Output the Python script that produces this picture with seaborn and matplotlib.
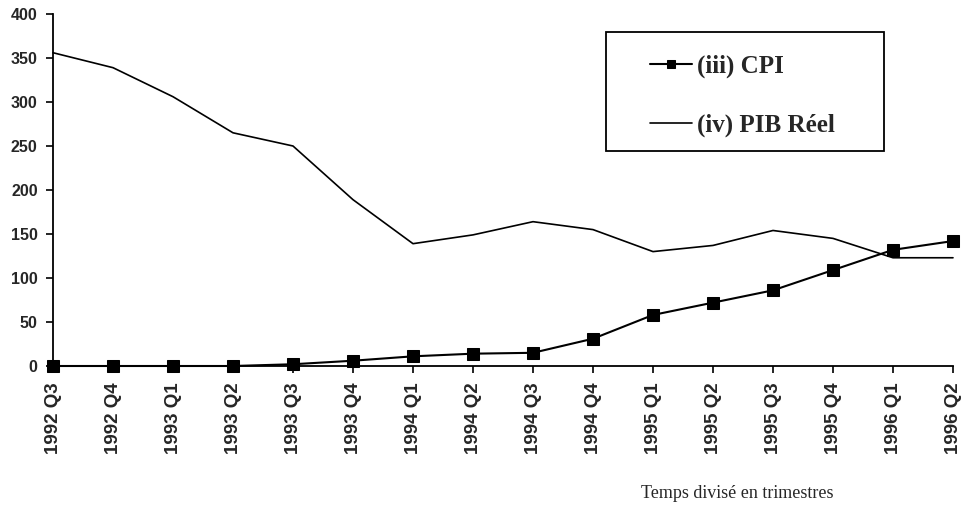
import pandas as pd
import matplotlib
matplotlib.use('Agg')
import matplotlib.pyplot as plt
from matplotlib.patches import Rectangle
import seaborn as sns

# Values
quarters = ['1992 Q3', '1992 Q4', '1993 Q1', '1993 Q2', '1993 Q3', '1993 Q4',
            '1994 Q1', '1994 Q2', '1994 Q3', '1994 Q4', '1995 Q1', '1995 Q2',
            '1995 Q3', '1995 Q4', '1996 Q1', '1996 Q2']
cpi = [0, 0, 0, 0, 2, 6, 11, 14, 15, 31, 58, 72, 86, 109, 132, 142]
pib = [356, 339, 306, 265, 250, 189, 139, 149, 164, 155, 130, 137, 154, 145, 123, 123]
y_ticks = [0, 50, 100, 150, 200, 250, 300, 350, 400]

df = pd.DataFrame({'pos': range(len(quarters)), 'quarter': quarters,
                   'cpi': cpi, 'pib': pib})

sns.set_style('ticks')
plt.rcParams['font.family'] = ['Liberation Sans', 'DejaVu Sans']

fig = plt.figure(figsize=(9.63, 5.17), dpi=100)
ax = fig.add_axes([53 / 963, 1 - 366 / 517, 900 / 963, 352 / 517])

sns.lineplot(data=df, x='pos', y='cpi', ax=ax, color='black', linewidth=1.5,
             marker='s', markersize=8.5, markeredgecolor='black',
             label='(iii) CPI', clip_on=False)
sns.lineplot(data=df, x='pos', y='pib', ax=ax, color='black', linewidth=1.2,
             label='(iv) PIB Réel', clip_on=False)

ax.set_xlim(0, len(quarters) - 1)
ax.set_ylim(0, 400)
ax.set_yticks(y_ticks)
ax.set_yticklabels([str(v) for v in y_ticks], fontsize=11.5, fontweight='bold')
ax.set_xticks(df['pos'])
ax.set_xticklabels(quarters, rotation=90, fontsize=13.5, fontweight='bold')
ax.tick_params(axis='both', direction='out', length=5, width=1.2, color='black')
ax.tick_params(axis='x', pad=7)
ax.tick_params(axis='y', pad=6)
ax.set_xlabel('')
ax.set_ylabel('')
for side in ['top', 'right']:
    ax.spines[side].set_visible(False)
for side in ['left', 'bottom']:
    ax.spines[side].set_linewidth(1.3)
    ax.spines[side].set_color('black')

# legend with its own box, drawn in figure coordinates
leg = ax.legend(loc='upper left', bbox_to_anchor=(637 / 963, 1 - 42 / 517),
                bbox_transform=fig.transFigure, frameon=False, borderpad=0,
                handlelength=1.7, handletextpad=0.2, labelspacing=1.42,
                markerscale=0.75,
                prop={'family': 'Liberation Serif', 'weight': 'bold', 'size': 18})
fig.patches.append(Rectangle((606 / 963, 1 - 151 / 517), 278 / 963, 119 / 517,
                             transform=fig.transFigure, fill=False,
                             edgecolor='black', linewidth=1.3))

fig.text(737 / 963, 1 - 493 / 517, 'Temps divisé en trimestres',
         ha='center', va='center', family='Liberation Serif', fontsize=13)

fig.savefig('out.png', dpi=100)
